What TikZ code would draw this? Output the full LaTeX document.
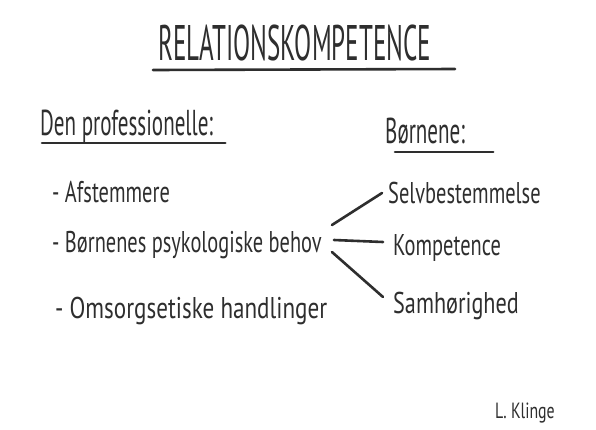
\documentclass[tikz,border=0pt]{standalone}
\usepackage{fontspec}
\setmainfont{PT Sans}
\usetikzlibrary{positioning}
\definecolor{marker}{HTML}{2E2E2E}
\newcommand{\narrowtext}[2][0.68]{\scalebox{#1}[1]{#2}}
\tikzset{big/.style = {text = marker, inner sep = 0, anchor = base west,
                       font = \fontsize{50}{54}\selectfont}}
\tikzset{head/.style = {text = marker, inner sep = 0, anchor = base west,
                        font = \fontsize{36}{40}\selectfont}}
\tikzset{hand/.style = {text = marker, inner sep = 0, anchor = base west,
                        font = \fontsize{30}{34}\selectfont}}
\tikzset{pen/.style = {draw = marker, line width = 2.6, line cap = round}}

\begin{document}
\begin{tikzpicture}[x = 1pt, y = -1pt]
      \useasboundingbox [fill = white] (0, 0) rectangle (596, 429);

      \node [big] (title) at (158, 60) {\narrowtext[0.5]{RELATIONSKOMPETENCE}};
      \draw [pen] ([xshift = -5, yshift = -10]title.base west) -- ([xshift = 24, yshift = -9]title.base east);

      \node [head] (prof) at (40, 135) {\narrowtext[0.585]{Den professionelle:}};
      \draw [pen] ([xshift = 2, yshift = -8]prof.base west) -- ([xshift = 12, yshift = -8]prof.base east);
      \node [head] (boern) at (385, 143) {\narrowtext[0.585]{Børnene:}};
      \draw [pen] ([xshift = 10, yshift = -9]boern.base west) -- ([xshift = 28, yshift = -9]boern.base east);

      \node [hand] (afst) at (52, 202) {\narrowtext{- Afstemmere}};
      \node [hand] (behov) at (52, 252) {\narrowtext{- Børnenes psykologiske behov}};
      \node [hand] (omsorg) at (55, 318) {\narrowtext[0.77]{- Omsorgsetiske handlinger}};

      \node [hand] (selv) at (388, 203) {\narrowtext{Selvbestemmelse}};
      \node [hand] (komp) at (393, 255) {\narrowtext{Kompetence}};
      \node [hand] (samh) at (393, 313) {\narrowtext[0.74]{Samhørighed}};

      \draw [pen] ([xshift = 10, yshift = 27]behov.base east) -- ([xshift = -6, yshift = 10]selv.base west);
      \draw [pen] ([xshift = 12, yshift = 12]behov.base east) -- ([xshift = -10, yshift = 13]komp.base west);
      \draw [pen] ([xshift = 10, yshift = 0]behov.base east) -- ([xshift = -10, yshift = 16]samh.base west);

      \node [hand, font = \fontsize{22}{26}\selectfont] (sign) at (495, 418) {\narrowtext[0.72]{L. Klinge}};
    \end{tikzpicture}
\end{document}
